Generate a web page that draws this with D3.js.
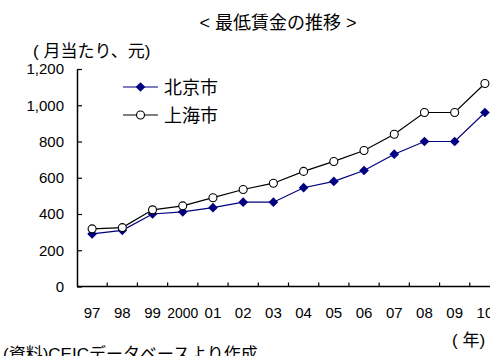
<!DOCTYPE html>
<html>
<head>
<meta charset="utf-8">
<script src="https://cdn.jsdelivr.net/npm/d3@7"></script>
<style>
  body { margin: 0; background: #fff; }
  text { font-family: "Liberation Sans", Arial, "Noto Sans CJK JP", sans-serif; fill: #000; }
  .jp { font-family: "Liberation Sans", "Noto Sans CJK JP", sans-serif; }
</style>
</head>
<body>
<div id="chart"></div>
<script>
// データ
const years = ["97", "98", "99", "2000", "01", "02", "03", "04", "05", "06", "07", "08", "09", "10"];
const beijing = [290, 310, 400, 412, 435, 465, 465, 545, 580, 640, 730, 800, 800, 960];
const shanghai = [318, 325, 423, 445, 490, 535, 570, 635, 690, 750, 840, 960, 960, 1120];
const yTicks = [0, 200, 400, 600, 800, 1000, 1200];

const width = 490;
const height = 356;
const margin = { top: 69, right: -10, bottom: 70, left: 77 };

const svg = d3.select("#chart")
    .append("svg")
    .attr("width", width)
    .attr("height", height);

// スケール
const x = d3.scaleBand()
    .range([margin.left, width - margin.right])
    .domain(years);
const y = d3.scaleLinear()
    .range([height - margin.bottom + 0.5, margin.top])
    .domain([0, 1200]);

// 軸
const yAxis = svg.append("g")
    .attr("transform", "translate(" + margin.left + ",0)")
    .call(d3.axisLeft(y).tickValues(yTicks).tickSizeInner(-5).tickSizeOuter(0).tickPadding(13)
        .tickFormat(d3.format(",")));
yAxis.select(".domain").attr("stroke", "#000").attr("stroke-width", 1.5);
yAxis.selectAll("line").attr("stroke", "#000").attr("stroke-width", 1.2);
yAxis.selectAll("text").attr("font-size", 15).style("fill", "#000");

const xAxis = svg.append("g")
    .attr("transform", "translate(0," + y(0) + ")");
xAxis.append("line")
    .attr("x1", margin.left).attr("x2", width)
    .attr("stroke", "#000").attr("stroke-width", 1.5);
xAxis.selectAll(".tk")
    .data(years)
    .enter().append("line")
    .attr("x1", d => x(d) + x.bandwidth()).attr("x2", d => x(d) + x.bandwidth())
    .attr("y1", 0).attr("y2", -4)
    .attr("stroke", "#000").attr("stroke-width", 1.2);
xAxis.selectAll(".lb")
    .data(years)
    .enter().append("text")
    .attr("x", d => x(d) + x.bandwidth() / 2)
    .attr("y", 31)
    .attr("text-anchor", "middle")
    .attr("font-size", 15)
    .attr("textLength", d => d.length > 2 ? 31 : null)
    .attr("lengthAdjust", "spacingAndGlyphs")
    .text(d => d);

// 折れ線
const line = v => d3.line()
    .x((d, i) => x(years[i]) + x.bandwidth() / 2)
    .y(d => y(d))(v);

svg.append("path")
    .attr("d", line(shanghai))
    .attr("fill", "none").attr("stroke", "#000").attr("stroke-width", 1.2);
svg.append("path")
    .attr("d", line(beijing))
    .attr("fill", "none").attr("stroke", "#000080").attr("stroke-width", 1.2);

const diamond = d3.symbol().type(d3.symbolDiamond2).size(60);

svg.selectAll(".bj")
    .data(beijing)
    .enter().append("path")
    .attr("transform", (d, i) => "translate(" + (x(years[i]) + x.bandwidth() / 2) + "," + y(d) + ")")
    .attr("d", diamond)
    .attr("fill", "#000080");

svg.selectAll(".sh")
    .data(shanghai)
    .enter().append("circle")
    .attr("cx", (d, i) => x(years[i]) + x.bandwidth() / 2)
    .attr("cy", d => y(d))
    .attr("r", 4)
    .attr("fill", "#fff").attr("stroke", "#000").attr("stroke-width", 1.1);

// 凡例
const legend = [
    { name: "北京市", color: "#000080", type: "diamond" },
    { name: "上海市", color: "#000", type: "circle" }
];
legend.forEach((l, i) => {
    const ly = 87 + i * 28;
    svg.append("line").attr("x1", 123).attr("x2", 158).attr("y1", ly).attr("y2", ly)
        .attr("stroke", l.color).attr("stroke-width", 1.2);
    if (l.type === "diamond") {
        svg.append("path").attr("transform", "translate(140.5," + ly + ")").attr("d", diamond).attr("fill", l.color);
    } else {
        svg.append("circle").attr("cx", 140.5).attr("cy", ly).attr("r", 4)
            .attr("fill", "#fff").attr("stroke", "#000").attr("stroke-width", 1.1);
    }
    svg.append("text").attr("class", "jp").attr("x", 164).attr("y", ly + 7)
        .attr("font-size", 18).text(l.name);
});

// テキスト
svg.append("text").attr("class", "jp").attr("x", 278).attr("y", 29)
    .attr("text-anchor", "middle").attr("font-size", 18).text("< 最低賃金の推移 >");
svg.append("text").attr("class", "jp").attr("x", 33).attr("y", 57)
    .attr("font-size", 17).text("( 月当たり、元)");
svg.append("text").attr("class", "jp").attr("x", 452).attr("y", 346)
    .attr("font-size", 17).text("( 年)");
svg.append("text").attr("class", "jp").attr("x", 3).attr("y", 360)
    .attr("font-size", 17).text("(資料)CEICデータベースより作成");
</script>
</body>
</html>
